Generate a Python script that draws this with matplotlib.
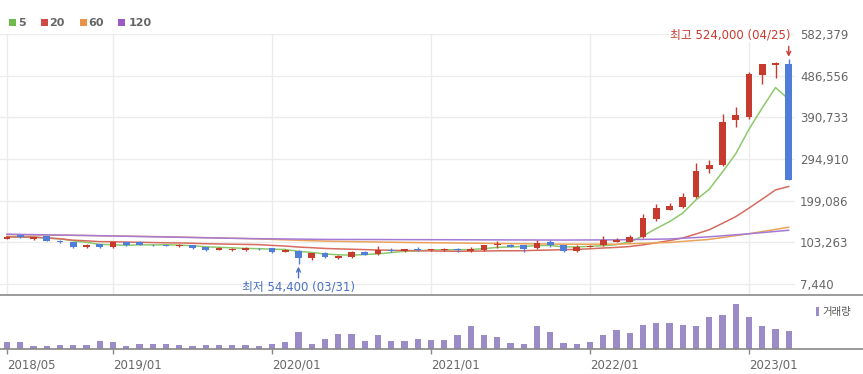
import matplotlib
matplotlib.use('Agg')
import matplotlib.pyplot as plt
import numpy as np
import pandas as pd
from matplotlib.lines import Line2D
from matplotlib.patches import Rectangle

plt.rcParams['font.family'] = ['DejaVu Sans', 'Noto Sans CJK KR']

# monthly candles, 2018/05 .. 2023/04, prices in thousand won
months = pd.period_range('2018-05', '2023-04', freq='M')
opens = [112, 119, 112, 117, 107, 104, 92, 99, 92, 103, 103, 98, 98, 95, 97, 92,
         86, 86, 85, 89, 90, 82, 84, 67, 78, 67, 69, 81, 76, 86, 83, 89, 85, 85,
         87, 83, 86, 97, 97, 96, 91, 103, 96, 84, 93, 97, 105, 105, 116, 157, 178,
         185, 207, 272, 281, 385, 392, 488, 512, 513]
highs = [118, 120, 116, 118, 109, 105, 99, 100, 104, 104, 107, 99, 98, 100, 98, 93,
         92, 91, 92, 91, 91, 89, 85, 79, 80, 74, 84, 84, 95, 90, 89, 92, 87, 90,
         91, 92, 98, 106, 100, 97, 109, 108, 97, 96, 96, 118, 113, 121, 168, 191,
         194, 217, 286, 293, 398, 415, 496, 514, 517, 524]
lows = [110, 114, 108, 106, 101, 90, 91, 91, 91, 95, 97, 95, 94, 93, 89, 84,
        85, 84, 84, 85, 79, 80, 54.4, 63, 67, 65, 67, 74, 74, 81, 81, 84, 84, 83,
        81, 80, 84, 91, 92, 82, 89, 92, 82, 82, 92, 95, 103, 103, 113, 153, 177,
        183, 205, 263, 278, 368, 388, 467, 481, 247]
closes = [116, 115, 115, 107, 104, 92, 98, 92, 103, 97, 98, 96, 95, 98, 90, 86,
          90, 89, 91, 87, 81, 86, 68, 78, 69, 72, 82, 75, 86, 83, 88, 86, 86, 87,
          85, 89, 97, 100, 93, 89, 101, 97, 84, 93, 95, 109, 109, 116, 160, 182,
          187, 208, 268, 282, 381, 396, 490, 513, 516, 247]
# volume, thousand shares
volume = [700, 700, 330, 330, 430, 430, 430, 830, 700, 330, 570, 570, 570, 430,
          330, 430, 430, 430, 430, 330, 570, 700, 1700, 570, 1030, 1570, 1570, 830,
          1430, 830, 830, 1030, 930, 930, 1430, 2330, 1430, 1270, 670, 530, 2330,
          1770, 670, 530, 770, 1430, 1930, 1670, 2430, 2600, 2600, 2430, 2330, 3200,
          3430, 4530, 3200, 2330, 2030, 1830]
# long moving averages (month index, thousand won)
ma_months = [0, 6, 12, 18, 24, 30, 36, 42, 46, 50, 53, 56, 59]
ma60 = [121, 119, 116, 112, 106, 103, 101, 99, 99, 103, 110, 123, 138]
ma120 = [122, 119, 115.5, 112, 110, 109.5, 109, 108.5, 109, 111, 116, 123, 131]

tick_labels = ['2018/05', '2019/01', '2020/01', '2021/01', '2022/01', '2023/01']
price_ticks = [7440, 103263, 199086, 294910, 390733, 486556, 582379]

UP, DOWN = '#c73b2e', '#4f7dd8'
MA_COLORS = {'5': '#8cc96c', '20': '#d66b60', '60': '#eba35a', '120': '#a47ad6'}
LEG_COLORS = {'5': '#6dbb4c', '20': '#cf4a42', '60': '#e8924a', '120': '#9a5bc9'}
GRAY = '#666666'

o = np.array(opens) * 1000
h = np.array(highs) * 1000
l = np.array(lows) * 1000
c = np.array(closes) * 1000
x = np.arange(len(months))
labels_all = list(months.strftime('%Y/%m'))
tick_pos = [labels_all.index(t) for t in tick_labels]

W, H = 863, 374
fig = plt.figure(figsize=(W / 100, H / 100), dpi=100)

ax = fig.add_axes([0, (H - 295) / H, 795 / W, (295 - 34) / H])
axv = fig.add_axes([0, (H - 349.3) / H, 1.0, 52.3 / H])

# moving averages
ma5 = pd.Series(c).rolling(5, min_periods=1).mean()
ma20 = pd.Series(c).rolling(20, min_periods=1).mean()
ax.plot(x, ma5, color=MA_COLORS['5'], lw=1.1, zorder=2)
ax.plot(x, ma20, color=MA_COLORS['20'], lw=1.1, zorder=2)
ax.plot(ma_months, np.array(ma60) * 1000, color=MA_COLORS['60'], lw=1.1, zorder=2)
ax.plot(ma_months, np.array(ma120) * 1000, color=MA_COLORS['120'], lw=1.1, zorder=2)

# candles
colors = [UP if cc >= oo else DOWN for oo, cc in zip(o, c)]
ax.vlines(x, l, h, colors=colors, lw=1.0, zorder=3)
body_lo = np.minimum(o, c)
body_h = np.maximum(np.abs(c - o), 2000)
ax.bar(x, body_h, bottom=body_lo, width=0.5, color=colors, zorder=4, linewidth=0)

ax.set_xlim(-7 / 13.25, (795 - 7) / 13.25)
ax.set_ylim(-17857, 582379)
ax.set_xticks(tick_pos)
ax.set_xticklabels([])
ax.set_yticks(price_ticks)
ax.set_yticklabels([f'{p:,}' for p in price_ticks], fontsize=8.5, color=GRAY)
ax.yaxis.tick_right()
ax.tick_params(length=0, pad=3.6)
ax.grid(True, color='#ececec', lw=1.0, zorder=0)
ax.set_axisbelow(True)
for s in ax.spines.values():
    s.set_visible(False)

# high / low annotations
imax = int(np.argmax(h))
imin = int(np.argmin(l))
ax.text(imax + 0.1, 580079, '최고 524,000 (04/25)', ha='right', va='center',
        fontsize=8.5, color='#cc3a30', clip_on=False,
        bbox=dict(facecolor='white', edgecolor='none', pad=0.5))
ax.annotate('', xy=(imax, h[imax] + 6000), xytext=(imax, h[imax] + 30000),
            arrowprops=dict(arrowstyle='->', color='#cc3a30', lw=1.0,
                            mutation_scale=7, shrinkA=0, shrinkB=0))
ax.text(imin, 1690, '최저 54,400 (03/31)', ha='center', va='center',
        fontsize=8.5, color='#4a70c2')
ax.annotate('', xy=(imin, l[imin] - 7000), xytext=(imin, l[imin] - 33000),
            arrowprops=dict(arrowstyle='->', color='#4a70c2', lw=1.0,
                            mutation_scale=7, shrinkA=0, shrinkB=0))

# volume panel
axv.bar(x, volume, width=0.47, color='#9b8bc6', linewidth=0)
axv.set_xlim(-7 / 13.25, (863 - 7) / 13.25)
axv.set_ylim(0, 5230)
axv.set_yticks([])
axv.set_xticks(tick_pos)
axv.set_xticklabels(tick_labels, fontsize=8.5, color=GRAY, ha='left')
axv.tick_params(axis='x', length=3.6, width=1, color='#888888', pad=3.0)
for k in ['top', 'left', 'right']:
    axv.spines[k].set_visible(False)
axv.spines['bottom'].set_color('#888888')
axv.spines['bottom'].set_linewidth(1.2)
axv.patch.set_alpha(0)

# separator between panels
fig.add_artist(Line2D([0, 1], [(H - 295) / H] * 2, transform=fig.transFigure,
                      color='#8a8a8a', lw=1.2))

# MA legend, top left
leg = [('5', 8.5, 18), ('20', 40.5, 49.5), ('60', 79.5, 88.5), ('120', 117.5, 129)]
for name, sx, tx in leg:
    fig.add_artist(Rectangle((sx / W, 1 - 26 / H), 7 / W, 7 / H,
                             transform=fig.transFigure, color=LEG_COLORS[name], lw=0))
    fig.text(tx / W, 1 - 22.5 / H, name, ha='left', va='center', fontsize=8,
             fontweight='bold', color=GRAY)

# volume legend
fig.add_artist(Rectangle((816 / W, 1 - 316 / H), 3 / W, 9 / H,
                         transform=fig.transFigure, color='#9b8bc6', lw=0))
fig.text(822 / W, 1 - 311.5 / H, '거래량', ha='left', va='center', fontsize=7.5,
         color='#555555')

fig.savefig('out.png', dpi=100)
